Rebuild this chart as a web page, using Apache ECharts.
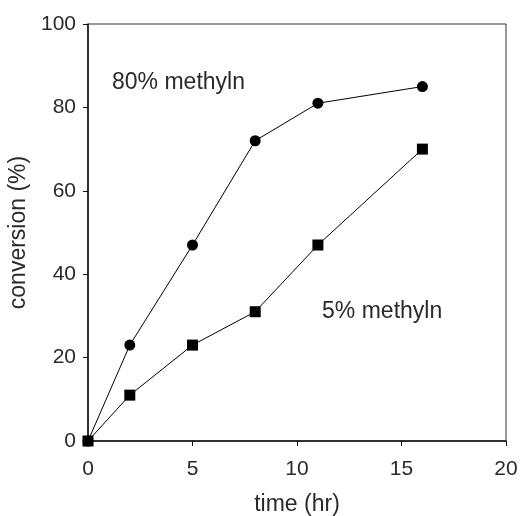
<!DOCTYPE html>
<html>
<head>
<meta charset="utf-8">
<script src="https://cdn.jsdelivr.net/npm/echarts@6/dist/echarts.min.js"></script>
<style>
  html, body { margin: 0; padding: 0; background: #fff; }
  #chart { width: 521px; height: 516px; }
</style>
</head>
<body>
<div id="chart"></div>
<script>
// Reaction time (hours)
const times = [0, 2, 5, 8, 11, 16];
// Conversion (%) at each time point
const conv80 = [0, 23, 47, 72, 81, 85];
const conv5 = [0, 11, 23, 31, 47, 70];
// Annotation text and anchor points in data units
const label80 = '80% methyln';
const label80At = [1.15, 85.9];
const label5 = '5% methyln';
const label5At = [11.2, 31.1];

const FONT = 'Liberation Sans, Arial, sans-serif';
const TXT = '#2a2a2a';

const chart = echarts.init(document.getElementById('chart'), null, { renderer: 'canvas' });

const pairs = (ys) => times.map((t, i) => [t, ys[i]]);

chart.setOption({
  animation: false,
  backgroundColor: '#fff',
  grid: {
    left: 88, right: 15, top: 24, bottom: 75,
    outerBoundsMode: 'none',
    show: true, borderColor: '#333', borderWidth: 1
  },
  xAxis: {
    type: 'value', min: 0, max: 20, interval: 5,
    name: 'time (hr)', nameLocation: 'middle', nameGap: 52,
    nameTextStyle: { fontFamily: FONT, fontSize: 23, color: TXT },
    axisLine: { lineStyle: { color: '#111', width: 1.5 } },
    axisTick: { inside: false, length: 5, lineStyle: { color: '#111' } },
    axisLabel: { fontFamily: FONT, fontSize: 21, color: TXT, margin: 18 },
    splitLine: { show: false }
  },
  yAxis: {
    type: 'value', min: 0, max: 100, interval: 20,
    name: 'conversion (%)', nameLocation: 'middle', nameGap: 52,
    nameTextStyle: { fontFamily: FONT, fontSize: 23, color: TXT },
    axisLine: { lineStyle: { color: '#111', width: 1.5 } },
    axisTick: { inside: false, length: 5, lineStyle: { color: '#111' } },
    axisLabel: { fontFamily: FONT, fontSize: 21, color: TXT, margin: 12 },
    splitLine: { show: false }
  },
  series: [
    {
      name: '80% methyln', type: 'line', data: pairs(conv80),
      symbol: 'circle', symbolSize: 11,
      lineStyle: { color: '#000', width: 1 },
      itemStyle: { color: '#000' }
    },
    {
      name: '5% methyln', type: 'line', data: pairs(conv5),
      symbol: 'rect', symbolSize: 11,
      lineStyle: { color: '#000', width: 1 },
      itemStyle: { color: '#000' }
    }
  ]
});

// Place the series annotations from data coordinates
const p80 = chart.convertToPixel({ gridIndex: 0 }, label80At);
const p5 = chart.convertToPixel({ gridIndex: 0 }, label5At);
chart.setOption({
  graphic: [
    { type: 'text', x: p80[0], y: p80[1],
      style: { text: label80, fontFamily: FONT, fontSize: 23, fill: TXT, verticalAlign: 'middle', align: 'left' } },
    { type: 'text', x: p5[0], y: p5[1],
      style: { text: label5, fontFamily: FONT, fontSize: 23, fill: TXT, verticalAlign: 'middle', align: 'left' } }
  ]
});
</script>
</body>
</html>
